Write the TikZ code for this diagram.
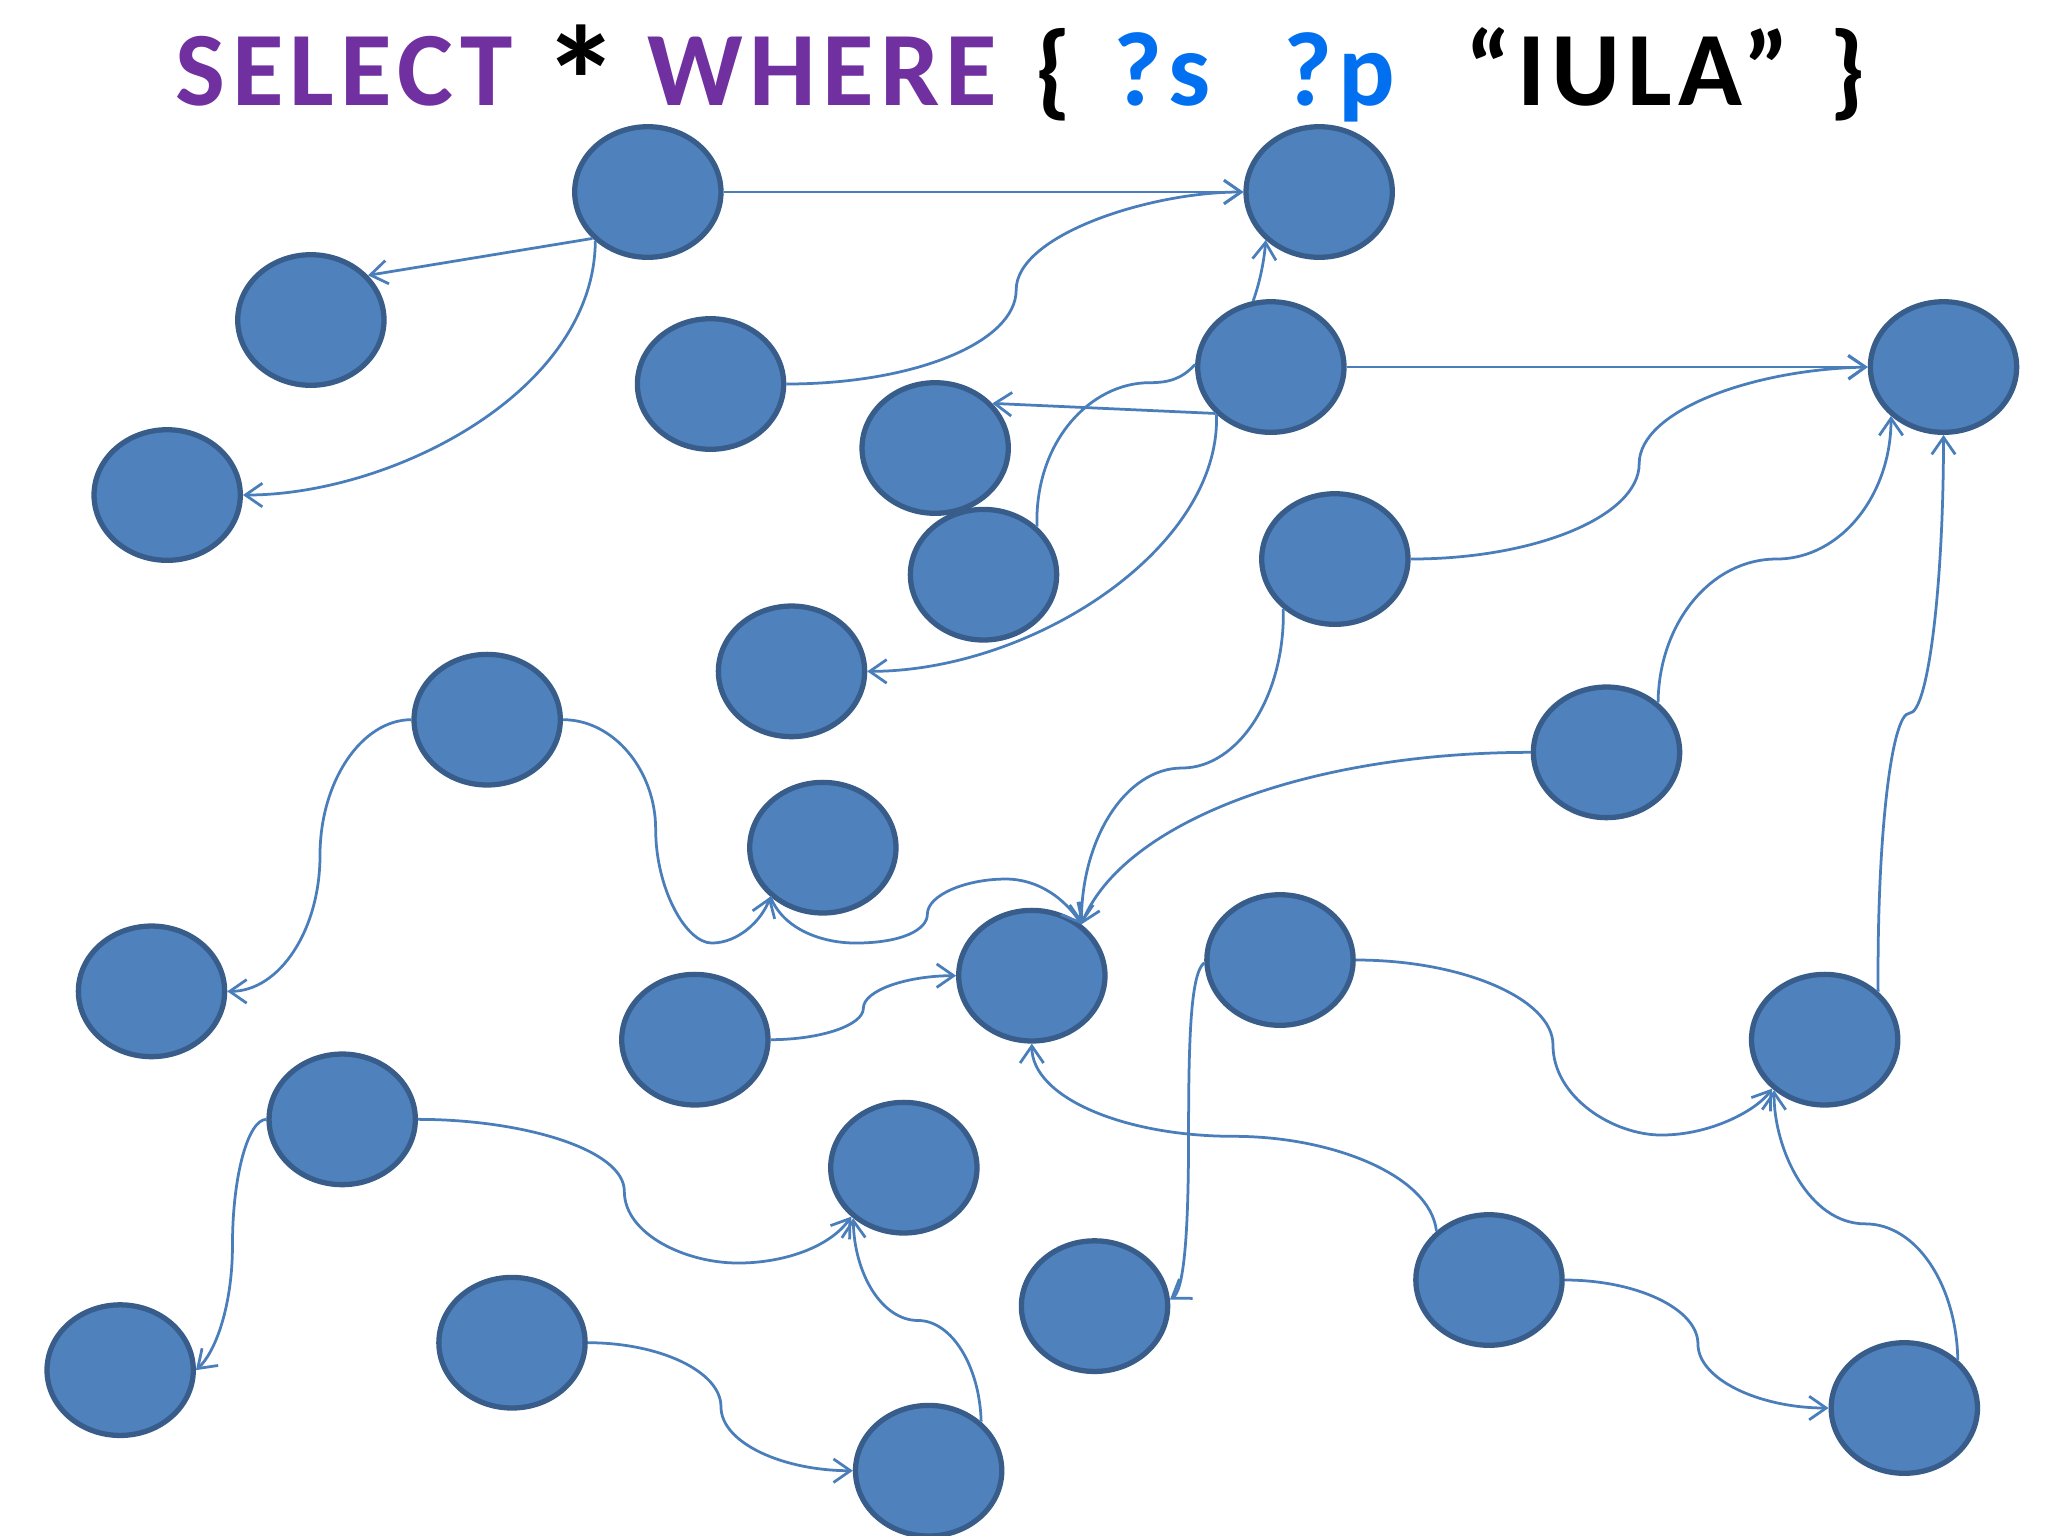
\documentclass[tikz,border=0pt]{standalone}
\usepackage{fontspec}
\setmainfont{Carlito}
\usepackage{tikz}
\usetikzlibrary{shapes.geometric, arrows.meta}
\definecolor{blobfill}{HTML}{4F81BD}
\definecolor{blobline}{HTML}{385D8A}
\definecolor{linkblue}{HTML}{4A7EBB}
\definecolor{sparqlpurple}{HTML}{7030A0}
\definecolor{varblue}{HTML}{0070F0}
\tikzstyle{blob} = [ellipse, minimum width=11.2mm, minimum height=10mm, inner sep=0pt, draw=blobline, fill=blobfill, line width=1.15pt]
\tikzstyle{link} = [linkblue, line width=0.6pt]
\tikzstyle{arrow} = [link, -{Straight Barb[length=1.3mm, width=1.8mm]}]
\tikzstyle{word} = [anchor=base west, inner sep=0pt, font=\fontsize{23}{26}\selectfont\bfseries\addfontfeatures{LetterSpace=6}]

\begin{document}
\begin{tikzpicture}[x=0.1mm, y=-0.1mm]
\fill[white] (0,0) rectangle (1568,1176);
\useasboundingbox (0,0) rectangle (1568,1176);
% query
\node (kwSelect) [word, text=sparqlpurple] at (134,81) {SELECT};
\node (star) [inner sep=0pt, font=\fontsize{34}{36}\selectfont\bfseries] at (445,62) {*};
\node (kwWhere) [word, text=sparqlpurple] at (495,81) {WHERE};
\node (lbrace) [word] at (792,81) {\{};
\node (varS) [word, text=varblue] at (852,81) {?s};
\node (varP) [word, text=varblue] at (982,81) {?p};
\node (lit) [word] at (1121,81) {“IULA”};
\node (rbrace) [word] at (1400,81) {\}};
% resources
\node (n1) [blob] at (496,147) {};
\node (n2) [blob] at (1010,147) {};
\node (n3) [blob] at (238,245) {};
\node (n4) [blob] at (544,294) {};
\node (n5) [blob] at (973,281) {};
\node (n6) [blob] at (1488,281) {};
\node (n7) [blob] at (128,379) {};
\node (n8) [blob] at (716,343) {};
\node (n9) [blob] at (753,440) {};
\node (n10) [blob] at (1022,428) {};
\node (n11) [blob] at (606,514) {};
\node (n12) [blob] at (373,551) {};
\node (n13) [blob] at (1230,576) {};
\node (n14) [blob] at (630,649) {};
\node (n15) [blob] at (116,759) {};
\node (n16) [blob] at (532,796) {};
\node (n17) [blob] at (790,747) {};
\node (n18) [blob] at (980,735) {};
\node (n19) [blob] at (1397,796) {};
\node (n20) [blob] at (262,857) {};
\node (n21) [blob] at (692,894) {};
\node (n22) [blob] at (838,1000) {};
\node (n23) [blob] at (1140,980) {};
\node (n24) [blob] at (92,1049) {};
\node (n25) [blob] at (392,1028) {};
\node (n26) [blob] at (711,1126) {};
\node (n27) [blob] at (1458,1078) {};
% links
\draw [arrow] (n1.east) -- (n2.west);
\draw [arrow] (n1.-140) -- (n3.38);
\draw [arrow] (n1.-137) .. controls (455,300) and (300,379) .. (n7.east);
\draw [arrow] (n4.east) .. controls (700,294) and (778,262) .. (778,222) .. controls (778,180) and (880,147) .. (n2.west);
\draw [arrow] (n5.105) .. controls (965,215) and (968,198) .. (n2.-138);
\draw [arrow] (n5.east) -- (n6.west);
\draw [arrow] (n5.-140) -- (n8.38);
\draw [link] (n5.178) .. controls (905,290) and (895,293) .. (880,293) .. controls (835,293) and (792,338) .. (n9.42);
\draw [arrow] (n5.-139) .. controls (935,420) and (790,514) .. (n11.east);
\draw [arrow] (n10.east) .. controls (1176,428) and (1255,395) .. (1255,355) .. controls (1255,315) and (1340,283) .. (n6.west);
\draw [arrow] (n13.44) .. controls (1270,477) and (1310,428) .. (1360,428) .. controls (1410,428) and (1448,378) .. (n6.-137);
\draw [arrow] (n19.42) .. controls (1437,642) and (1448,546) .. (1462,546) .. controls (1476,546) and (1488,450) .. (n6.south);
\draw [arrow] (n10.-136) .. controls (984,533) and (948,588) .. (905,588) .. controls (862,588) and (828,642) .. (n17.46);
\draw [arrow] (n13.west) .. controls (1000,576) and (860,630) .. (n17.46);
\draw [arrow] (n12.west) .. controls (277,551) and (245,598) .. (245,655) .. controls (245,712) and (214,759) .. (n15.east);
\draw [arrow] (n12.east) .. controls (470,551) and (502,590) .. (502,635) .. controls (502,680) and (525,722) .. (545,722) .. controls (565,722) and (583,705) .. (n14.-137);
\draw [arrow] (n14.-137) .. controls (600,712) and (630,722) .. (655,722) .. controls (690,722) and (710,712) .. (710,700) .. controls (710,685) and (740,673) .. (770,673) .. controls (795,673) and (815,688) .. (n17.46);
\draw [arrow] (n16.east) .. controls (628,796) and (661,785) .. (661,772) .. controls (661,758) and (695,747) .. (n17.west);
\draw [arrow] (n18.182) .. controls (912,745) and (910,790) .. (910,868) .. controls (910,950) and (906,988) .. (n22.5);
\draw [arrow] (n18.east) .. controls (1120,735) and (1189,765) .. (1189,800) .. controls (1189,840) and (1235,869) .. (1272,869) .. controls (1310,869) and (1345,850) .. (n19.-137);
\draw [arrow] (n23.137) .. controls (1095,900) and (1020,870) .. (945,870) .. controls (860,870) and (790,840) .. (n17.south);
\draw [arrow] (n27.42) .. controls (1498,985) and (1468,937) .. (1428,937) .. controls (1385,937) and (1358,880) .. (n19.-135);
\draw [arrow] (n20.east) .. controls (400,857) and (478,880) .. (478,912) .. controls (478,945) and (525,967) .. (565,967) .. controls (600,967) and (635,955) .. (n21.-137);
\draw [arrow] (n20.west) .. controls (190,857) and (178,900) .. (178,953) .. controls (178,1000) and (165,1035) .. (n24.east);
\draw [arrow] (n26.43) .. controls (750,1045) and (728,1011) .. (703,1011) .. controls (675,1011) and (654,975) .. (n21.-135);
\draw [arrow] (n25.east) .. controls (505,1028) and (552,1050) .. (552,1077) .. controls (552,1105) and (600,1126) .. (n26.west);
\draw [arrow] (n23.east) .. controls (1253,980) and (1300,1002) .. (1300,1029) .. controls (1300,1056) and (1347,1078) .. (n27.west);
\end{tikzpicture}
\end{document}
